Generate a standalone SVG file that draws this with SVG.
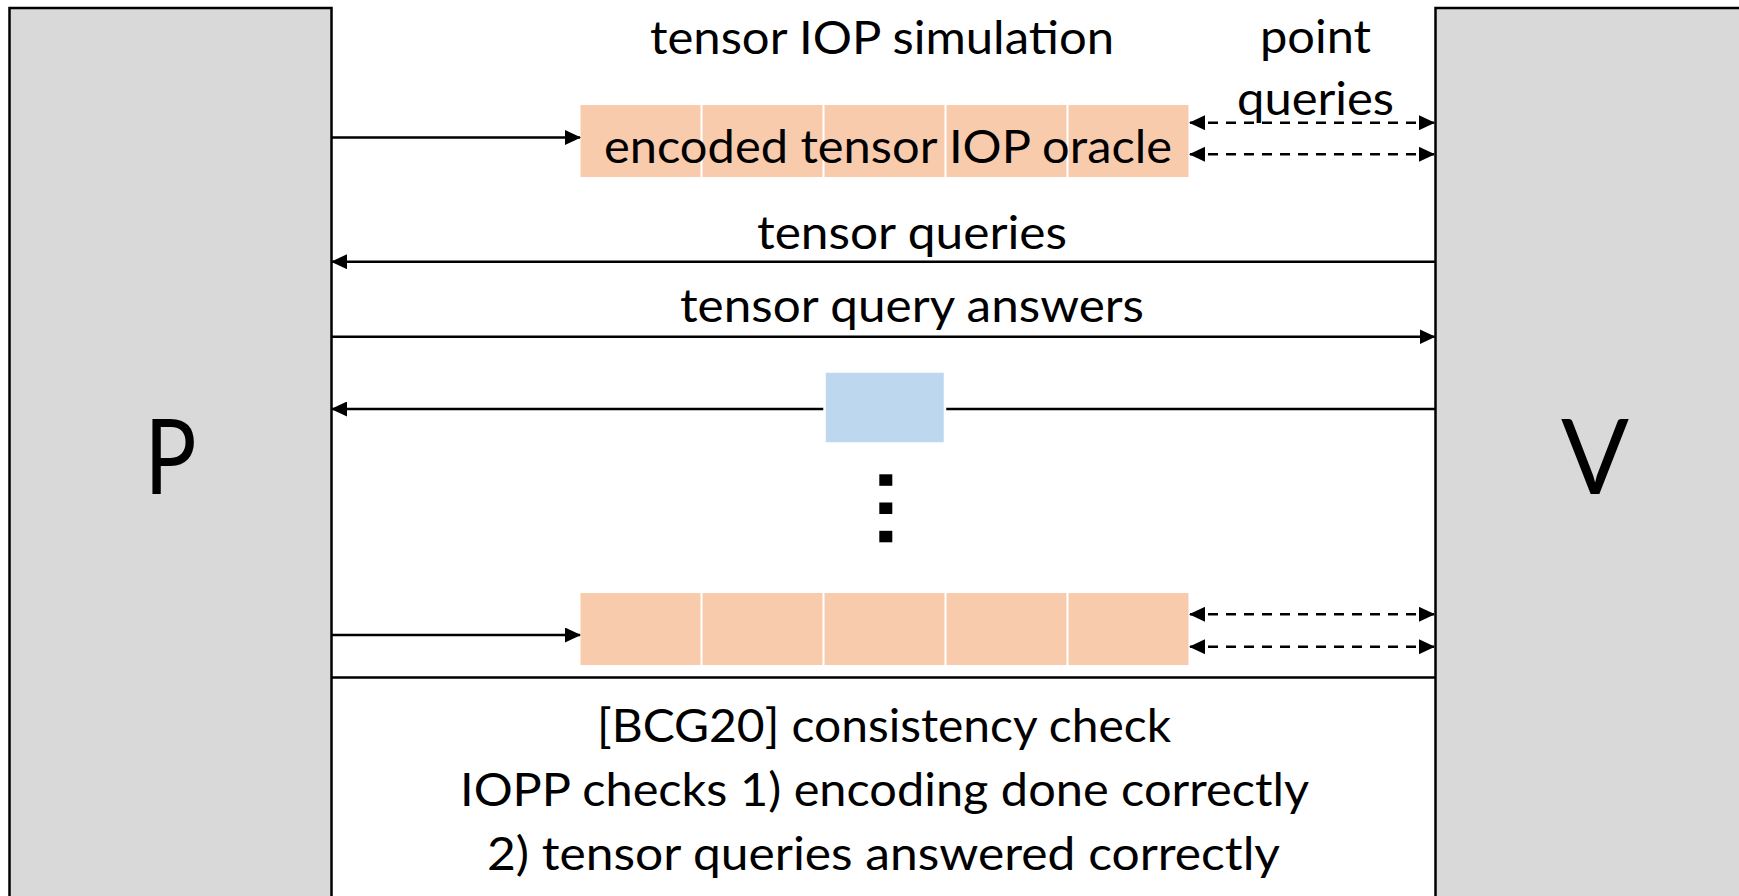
<svg xmlns="http://www.w3.org/2000/svg" width="1739" height="896" viewBox="0 0 1739 896">
<style>
.party{fill:#D9D9D9;stroke:#000;stroke-width:2.5}
.cell{fill:#F8CBAD}
.t{font-family:Lato,"Liberation Sans",sans-serif;font-size:46px;fill:#000;text-anchor:middle}
.big{font-family:Lato,"Liberation Sans",sans-serif;font-size:104px;fill:#000;text-anchor:middle}
.ln{stroke:#000;stroke-width:2.5;fill:none}
.dash{stroke:#000;stroke-width:2.5;fill:none;stroke-dasharray:10 8}
</style>
<defs>
<marker id="ah" viewBox="0 0 16 15" refX="15" refY="7.5" markerWidth="16" markerHeight="15" markerUnits="userSpaceOnUse" orient="auto-start-reverse">
<path d="M0,0 L16,7.5 L0,15 z" fill="#000"/>
</marker>
</defs>
<rect width="1739" height="896" fill="#fff"/>

<g id="node-P">
<rect class="party" x="9.5" y="8" width="322" height="900"/>
<text class="big" x="170.5" y="494" textLength="52" lengthAdjust="spacingAndGlyphs">P</text>
</g>
<g id="node-V">
<rect class="party" x="1435.5" y="8" width="320" height="900"/>
<text class="big" x="1595" y="494" textLength="68" lengthAdjust="spacingAndGlyphs">V</text>
</g>

<g id="title">
<text class="t" x="882" y="54" textLength="464" lengthAdjust="spacingAndGlyphs">tensor IOP simulation</text>
</g>

<g id="node-oracle-top">
<rect class="cell" x="580.5" y="105" width="120" height="72"/>
<rect class="cell" x="702.5" y="105" width="120" height="72"/>
<rect class="cell" x="824.5" y="105" width="120" height="72"/>
<rect class="cell" x="946.5" y="105" width="120" height="72"/>
<rect class="cell" x="1068.5" y="105" width="120" height="72"/>
<text class="t" x="888" y="163" textLength="568" lengthAdjust="spacingAndGlyphs">encoded tensor IOP oracle</text>
</g>

<g id="node-oracle-bottom">
<rect class="cell" x="580.5" y="593" width="120" height="72"/>
<rect class="cell" x="702.5" y="593" width="120" height="72"/>
<rect class="cell" x="824.5" y="593" width="120" height="72"/>
<rect class="cell" x="946.5" y="593" width="120" height="72"/>
<rect class="cell" x="1068.5" y="593" width="120" height="72"/>
</g>

<g id="connectors">
<line class="ln" x1="331.5" y1="137.5" x2="580" y2="137.5" marker-end="url(#ah)"/>
<line class="dash" x1="1190" y1="122.7" x2="1434" y2="122.7" marker-start="url(#ah)" marker-end="url(#ah)"/>
<line class="dash" x1="1190" y1="154.3" x2="1434" y2="154.3" marker-start="url(#ah)" marker-end="url(#ah)"/>
<line class="ln" x1="1435.5" y1="261.7" x2="332" y2="261.7" marker-end="url(#ah)"/>
<line class="ln" x1="331.5" y1="336.7" x2="1434.5" y2="336.7" marker-end="url(#ah)"/>
<line class="ln" x1="1435.5" y1="409" x2="332" y2="409" marker-end="url(#ah)"/>
<line class="ln" x1="331.5" y1="635" x2="580" y2="635" marker-end="url(#ah)"/>
<line class="dash" x1="1190" y1="614.3" x2="1434" y2="614.3" marker-start="url(#ah)" marker-end="url(#ah)"/>
<line class="dash" x1="1190" y1="646.7" x2="1434" y2="646.7" marker-start="url(#ah)" marker-end="url(#ah)"/>
<line class="ln" x1="331.5" y1="677.5" x2="1435.5" y2="677.5"/>
</g>

<g id="label-point-queries">
<text class="t" x="1315.5" y="53" textLength="111" lengthAdjust="spacingAndGlyphs">point</text>
<text class="t" x="1315.5" y="115" textLength="157" lengthAdjust="spacingAndGlyphs">queries</text>
</g>
<g id="label-tensor-queries">
<text class="t" x="912" y="249" textLength="310" lengthAdjust="spacingAndGlyphs">tensor queries</text>
</g>
<g id="label-answers">
<text class="t" x="912" y="321.5" textLength="464" lengthAdjust="spacingAndGlyphs">tensor query answers</text>
</g>

<g id="node-blue">
<rect x="824.5" y="371.5" width="120.5" height="72" fill="#BDD7EE" stroke="#fff" stroke-width="2.5"/>
</g>

<g id="dots">
<rect x="879.3" y="474.3" width="13" height="11.5" fill="#000"/>
<rect x="879.3" y="502.5" width="13" height="11.5" fill="#000"/>
<rect x="879.3" y="530.8" width="13" height="11.5" fill="#000"/>
</g>

<g id="node-check">
<text class="t" x="884" y="741.5" textLength="574" lengthAdjust="spacingAndGlyphs">[BCG20] consistency check</text>
<text class="t" x="884.5" y="805.7" textLength="849" lengthAdjust="spacingAndGlyphs">IOPP checks 1) encoding done correctly</text>
<text class="t" x="883.5" y="870" textLength="793" lengthAdjust="spacingAndGlyphs">2) tensor queries answered correctly</text>
</g>
</svg>
